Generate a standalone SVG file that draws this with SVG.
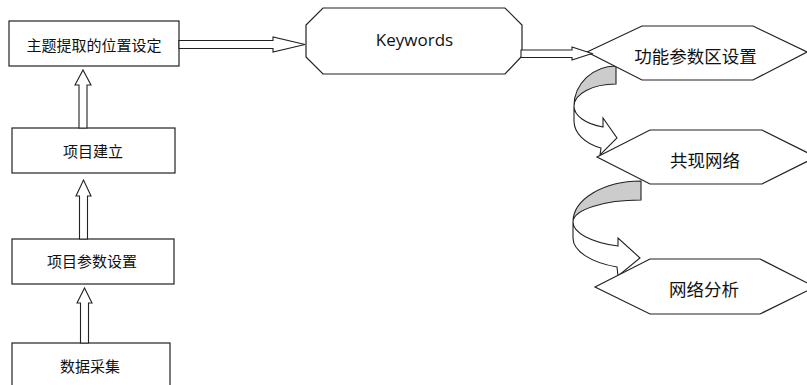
<svg xmlns="http://www.w3.org/2000/svg" width="807" height="385" viewBox="0 0 807 385">
<style>
.box{fill:#fff;stroke:#222;stroke-width:1.2}
.conn{fill:#fff;stroke:#222;stroke-width:1.1;stroke-linejoin:miter}
.dark{fill:#cccccc;stroke:#222;stroke-width:1.1}
.zh{font-family:"Noto Sans CJK SC","Noto Sans",sans-serif;fill:#111;text-anchor:middle}
.l{font-size:15px}
.r{font-size:17.5px}
.en{font-family:"Open Sans","Liberation Sans",sans-serif;font-size:17px;fill:#111;text-anchor:middle}
</style>
<rect width="807" height="385" fill="#fff"/>
<g id="connectors-back">
<path class="dark" d="M616,66 A42,40 0 0 0 574,106 A42,22 0 0 1 616,84 Z"/>
<path class="conn" d="M574,106 A42,22 0 0 0 603,127 L603,118 L617,138 L600,155 L601,148 A42,29 0 0 1 574,121 Z"/>
<path class="dark" d="M641,181 A68,41 0 0 0 573,222 A68,22 0 0 1 641,200 Z"/>
<path class="conn" d="M573,222 A68,25.5 0 0 0 618,246 L618,238 L640,258 L618,276 L617,267 A68,31 0 0 1 573,238 Z"/>
</g>
<g id="n1"><rect class="box" x="9" y="21" width="170" height="45"/><text class="zh l" x="94" y="50.5">主题提取的位置设定</text></g>
<g id="n2"><rect class="box" x="12" y="128" width="163" height="45"/><text class="zh l" x="93" y="157">项目建立</text></g>
<g id="n3"><rect class="box" x="12" y="239" width="162" height="45"/><text class="zh l" x="92" y="267">项目参数设置</text></g>
<g id="n4"><rect class="box" x="12" y="343" width="158" height="60"/><text class="zh l" x="90" y="372">数据采集</text></g>
<g id="kw"><polygon class="box" points="323,8 505,8 522,25 522,56 505,74 323,74 306,57 306,25"/><text class="en" x="414.5" y="45.5">Keywords</text></g>
<g id="h1"><polygon class="box" points="587,52 642,26 753,26 807,52 753,80 642,80"/><text class="zh r" x="695.5" y="62.5">功能参数区设置</text></g>
<g id="h2"><polygon class="box" points="597,157 650,130 762,130 816,157 762,184 650,184"/><text class="zh r" x="705" y="166.5">共现网络</text></g>
<g id="h3"><polygon class="box" points="595,287 650,259 760,259 815,287 760,314 650,314"/><text class="zh r" x="704" y="295.5">网络分析</text></g>
<g id="connectors">
<polygon class="conn" points="79,128 79,85 75,85 83,70 91,85 87,85 87,128"/>
<polygon class="conn" points="79.5,239 79.5,196 76,196 83.5,180 91,196 87.5,196 87.5,239"/>
<polygon class="conn" points="80.5,343 80.5,303 77,303 84.5,288 92,303 88.5,303 88.5,343"/>
<polygon class="conn" points="179,40.5 273,40.5 273,37 305,44.5 273,52 273,48.5 179,48.5"/>
<polygon class="conn" points="521,50 572,50 572,47 592,53.5 572,60 572,57.5 521,57.5"/>
</g>
</svg>
